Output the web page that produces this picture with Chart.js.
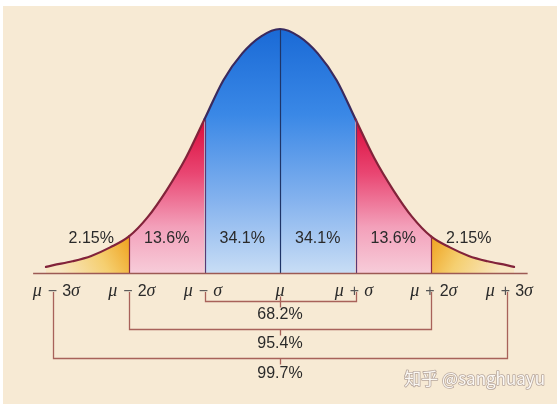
<!DOCTYPE html>
<html><head><meta charset="utf-8">
<script src="https://cdn.jsdelivr.net/npm/chart.js@4.4.1/dist/chart.umd.min.js"></script>
<style>
html,body{margin:0;padding:0;background:#fff;}
#wrap{position:relative;width:560px;height:404px;}
canvas{display:block;}
</style></head><body>
<div id="wrap"><canvas id="c" width="560" height="404"></canvas></div>
<script>
// ---- data (x in σ units, height relative to peak = 100) ----
const sigmaPositions = [-3.1, -3, -2.75, -2.5, -2.25, -2, -1.75, -1.5, -1.25, -1, -0.75, -0.5, -0.25, 0,
                        0.25, 0.5, 0.75, 1, 1.25, 1.5, 1.75, 2, 2.25, 2.5, 2.75, 3, 3.1];
const curveHeights   = [2.5, 3.2, 4.8, 7, 10.5, 15, 23, 34, 47, 63, 79, 90, 97, 100,
                        97, 90, 79, 63, 47, 34, 23, 15, 10.5, 7, 4.8, 3.2, 2.5];
const boundaries     = [-3, -2, -1, 0, 1, 2, 3];
const tickLabels     = ['μ − 3σ', 'μ − 2σ', 'μ − σ', 'μ', 'μ + σ', 'μ + 2σ', 'μ + 3σ'];
const regionCenters  = [-2.5, -1.5, -0.5, 0.5, 1.5, 2.5];
const regionLabels   = ['2.15%', '13.6%', '34.1%', '34.1%', '13.6%', '2.15%'];
const bracketFrom    = [-1, -2, -3];
const bracketTo      = [1, 2, 3];
const bracketLabels  = ['68.2%', '95.4%', '99.7%'];
const watermark      = '知乎 @sanghuayu';

const curveData = sigmaPositions.map((x, i) => ({x, y: curveHeights[i]}));

const gradCache = {};
function regionFill(ctx) {
  const chart = ctx.chart;
  const sx = chart.scales.x, sy = chart.scales.y;
  const c = chart.ctx;
  const m = (ctx.p0.parsed.x + ctx.p1.parsed.x) / 2;
  const a = Math.abs(m);
  const key = a < 1 ? 'blue' : a < 2 ? 'red' : (m < 0 ? 'yl' : 'yr');
  const sig = key + ':' + chart.chartArea.left + ',' + chart.chartArea.bottom;
  if (gradCache[key] && gradCache[key].sig === sig) return gradCache[key].g;
  let g;
  if (key === 'blue') {
    g = c.createLinearGradient(0, sy.getPixelForValue(100), 0, sy.getPixelForValue(0));
    g.addColorStop(0, '#1a6ad6');
    g.addColorStop(0.35, '#3a88e6');
    g.addColorStop(0.7, '#84b2ee');
    g.addColorStop(1, '#c8ddf5');
  } else if (key === 'red') {
    g = c.createLinearGradient(0, sy.getPixelForValue(63), 0, sy.getPixelForValue(0));
    g.addColorStop(0, '#da0a3a');
    g.addColorStop(0.35, '#e94672');
    g.addColorStop(0.7, '#f3a0ba');
    g.addColorStop(1, '#f7ccd9');
  } else {
    const s = Math.sign(m);
    g = c.createLinearGradient(sx.getPixelForValue(2 * s), sy.getPixelForValue(15),
                               sx.getPixelForValue(2.9 * s), sy.getPixelForValue(0));
    g.addColorStop(0, '#efa21e');
    g.addColorStop(0.45, '#f5cf70');
    g.addColorStop(1, '#f8e6c2');
  }
  gradCache[key] = {sig, g};
  return g;
}

function charFont(ch) {
  return (ch === 'μ' || ch === 'σ') ? 'italic 18px "Liberation Serif"' : '16px "Liberation Sans"';
}
function runWidth(c, s) {
  let w = 0;
  for (const ch of s) { c.font = charFont(ch); w += c.measureText(ch).width; }
  return w;
}
function drawRun(c, s, x, y) {
  for (const ch of s) { c.font = charFont(ch); c.fillText(ch, x, y); x += c.measureText(ch).width; }
}

const overlay = {
  id: 'overlay',
  beforeDraw(chart) {
    const c = chart.ctx;
    c.save();
    c.fillStyle = '#fff';
    c.fillRect(0, 0, chart.width, chart.height);
    c.fillStyle = '#f7ead4';
    c.fillRect(3, 6, chart.width - 6, chart.height - 6);
    c.restore();
  },
  afterDatasetsDraw(chart) {
    const c = chart.ctx;
    const sx = chart.scales.x, sy = chart.scales.y;
    const meta = chart.getDatasetMeta(0);
    const base = sy.getPixelForValue(0);
    c.save();
    // divider lines under curve
    const divColors = {'-2': '#8c2c44', '-1': '#5a3874', '0': '#1e3468', '1': '#5a3874', '2': '#8c2c44'};
    boundaries.forEach(b => {
      if (Math.abs(b) > 2) return;
      const idx = sigmaPositions.indexOf(b);
      const pt = meta.data[idx];
      c.strokeStyle = divColors[String(b)];
      c.lineWidth = 1.2;
      c.beginPath();
      c.moveTo(Math.round(pt.x) + 0.5, pt.y);
      c.lineTo(Math.round(pt.x) + 0.5, base);
      c.stroke();
    });
    // axis line
    c.strokeStyle = '#9c5a54';
    c.lineWidth = 1.6;
    c.beginPath();
    c.moveTo(sx.getPixelForValue(-3.27), base + 0.5);
    c.lineTo(sx.getPixelForValue(3.28), base + 0.5);
    c.stroke();
    // region percentages
    c.fillStyle = '#2a2a2a';
    c.font = '16px "Liberation Sans"';
    c.textAlign = 'center';
    c.textBaseline = 'middle';
    regionLabels.forEach((t, i) => c.fillText(t, sx.getPixelForValue(regionCenters[i]), base - 34));
    // brackets
    const tickY = base + 19;
    const bracketY = [base + 28, base + 56, base + 85];
    const textY = [base + 42, base + 71, base + 101];
    c.strokeStyle = '#a8625a';
    c.lineWidth = 1.3;
    bracketLabels.forEach((t, i) => {
      const x0 = Math.round(sx.getPixelForValue(bracketFrom[i])) + 0.5;
      const x1 = Math.round(sx.getPixelForValue(bracketTo[i])) + 0.5;
      const y = Math.round(bracketY[i]) + 0.5;
      c.beginPath();
      c.moveTo(x0, tickY); c.lineTo(x0, y); c.lineTo(x1, y); c.lineTo(x1, tickY);
      c.stroke();
      const xm = Math.round(sx.getPixelForValue(0)) + 0.5;
      c.beginPath();
      c.moveTo(xm, y - (i === 0 ? 5 : 0)); c.lineTo(xm, y + 6);
      c.stroke();
    });
    c.fillStyle = '#2a2a2a';
    c.font = '16px "Liberation Sans"';
    c.textAlign = 'center';
    bracketLabels.forEach((t, i) => c.fillText(t, sx.getPixelForValue(0), textY[i]));
    // tick labels
    c.textAlign = 'left';
    c.textBaseline = 'alphabetic';
    const ly = base + 23;
    tickLabels.forEach((t, i) => {
      const cx = sx.getPixelForValue(boundaries[i]);
      const parts = t.split(' ');
      c.fillStyle = '#2a2a2a';
      if (parts.length === 1) {
        const w = runWidth(c, parts[0]);
        drawRun(c, parts[0], cx - w / 2, ly);
      } else {
        const opW = runWidth(c, parts[1]);
        const opL = cx - opW / 2 - 1;
        c.fillStyle = '#555';
        drawRun(c, parts[1], opL, ly);
        c.fillStyle = '#2a2a2a';
        const lw = runWidth(c, parts[0]);
        drawRun(c, parts[0], opL - 6 - lw, ly);
        drawRun(c, parts[2], opL + opW + 5, ly);
      }
    });
    // watermark
    c.font = '17px "Noto Sans CJK SC"';
    c.textAlign = 'right';
    c.textBaseline = 'middle';
    c.lineJoin = 'round';
    c.strokeStyle = 'rgba(130,110,110,0.55)';
    c.lineWidth = 1.6;
    c.strokeText(watermark, 545, 379);
    c.fillStyle = '#fbf8f4';
    c.fillText(watermark, 545, 379);
    c.restore();
  }
};

new Chart(document.getElementById('c'), {
  type: 'line',
  data: {
    datasets: [{
      data: curveData,
      borderColor: '#82233a',
      borderWidth: 2.2,
      borderCapStyle: 'round',
      pointRadius: 0,
      cubicInterpolationMode: 'monotone',
      fill: 'origin',
      backgroundColor: '#3a88e6',
      clip: false,
      segment: {
        backgroundColor: regionFill,
        borderColor: ctx => Math.abs((ctx.p0.parsed.x + ctx.p1.parsed.x) / 2) < 1 ? '#3a2a5e' : '#82233a'
      }
    }]
  },
  options: {
    responsive: false,
    animation: false,
    devicePixelRatio: 1,
    layout: {padding: {top: 29, bottom: 131, left: 0, right: 0}},
    scales: {
      x: {type: 'linear', display: false, min: -280 / 75.5, max: 280 / 75.5},
      y: {display: false, min: 0, max: 100}
    },
    plugins: {legend: {display: false}, tooltip: {enabled: false}}
  },
  plugins: [overlay]
});
</script>
</body></html>
